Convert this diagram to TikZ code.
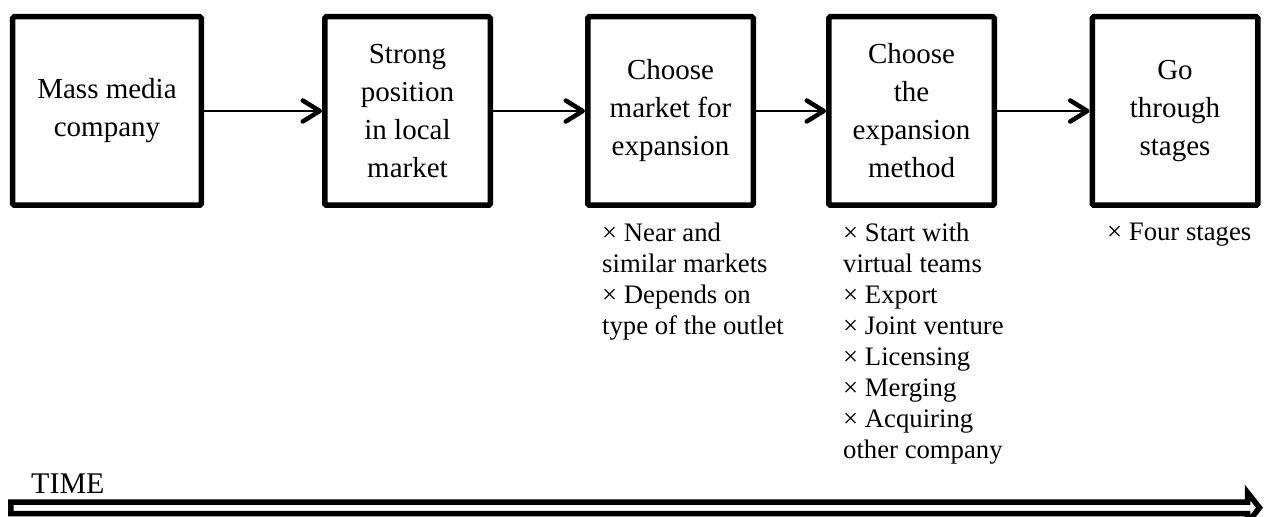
\documentclass[tikz,border=0pt]{standalone}
\usepackage{fontspec}
\setmainfont{Liberation Serif}
\usetikzlibrary{arrows.meta}

\tikzset{
  stagebox/.style={draw, line width=5.5bp, rounded corners=1.5bp, inner sep=0pt,
    minimum width=165.5bp, minimum height=188.5bp, align=center,
    font=\fontsize{29bp}{38bp}\selectfont},
  widebox/.style={stagebox, minimum width=188.5bp},
  conn/.style={line width=2.7bp,
    -{Straight Barb[length=17bp, width=21bp, line width=4.5bp, round]}},
  notes/.style={anchor=north west, inner sep=0pt, align=left,
    font=\fontsize{26.7bp}{31bp}\selectfont},
  timearrow/.style={draw, fill=white, line width=5.5bp, line join=miter},
}

\begin{document}
\begin{tikzpicture}[x=1bp, y=-1bp]
  \useasboundingbox (0,0) rectangle (1269,517);

  % process stages
  \node[widebox] (b1) at (107,111)   {Mass media\\company};
  \node[stagebox] (b2) at (407.5,111) {Strong\\position\\in local\\market};
  \node[stagebox] (b3) at (670.5,111) {Choose\\market for\\expansion};
  \node[stagebox] (b4) at (911.5,111) {Choose\\the\\expansion\\method};
  \node[stagebox] (b5) at (1175,111)  {Go\\through\\stages};

  \draw[conn] (b1) -- (b2);
  \draw[conn] (b2) -- (b3);
  \draw[conn] (b3) -- (b4);
  \draw[conn] (b4) -- (b5);

  % notes under the stages
  \node[notes] (n3) at (602,223) {× Near and\\similar markets\\× Depends on\\type of the outlet};
  \node[notes] (n4) at (843,223) {× Start with\\virtual teams\\× Export\\× Joint venture\\× Licensing\\× Merging\\× Acquiring\\other company};
  \node[notes] (n5) at (1107,223) {× Four stages};

  % time axis
  \node[anchor=base west, inner sep=0pt, font=\fontsize{30bp}{36bp}\selectfont] (time) at (31,493) {TIME};
  \coordinate (ta) at (10.75,502);
  \coordinate (tb) at (1247.5,502);
  \coordinate (tc) at (1247.5,492.5);
  \coordinate (tip) at (1259.5,507.75);
  \coordinate (td) at (1247.5,523);
  \coordinate (te) at (1247.5,513.5);
  \coordinate (tf) at (10.75,513.5);
  \path[timearrow] (ta) -- (tb) -- (tc) -- (tip) -- (td) -- (te) -- (tf) -- cycle;
\end{tikzpicture}
\end{document}
